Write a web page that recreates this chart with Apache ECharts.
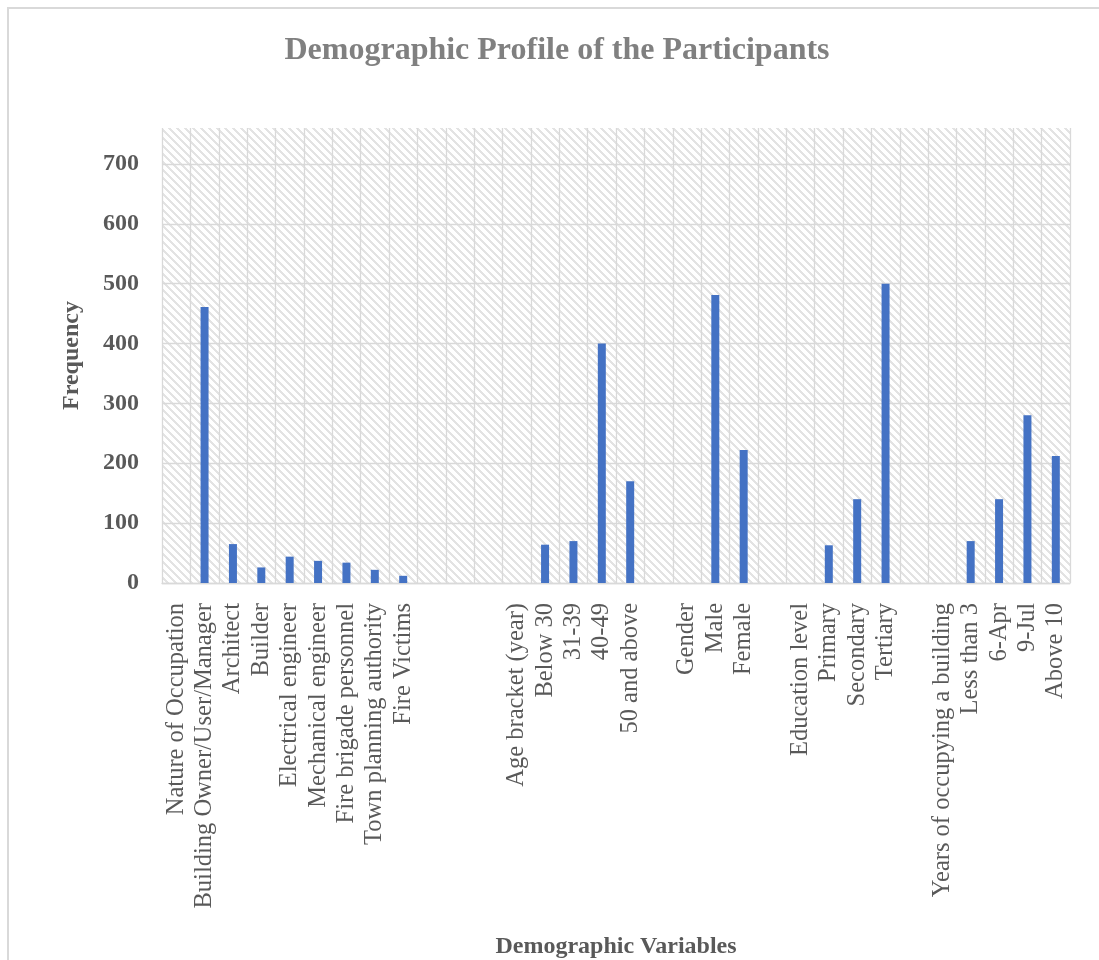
<!DOCTYPE html>
<html>
<head>
<meta charset="utf-8">
<script src="https://cdn.jsdelivr.net/npm/echarts@6/dist/echarts.min.js"></script>
<style>
html,body{margin:0;padding:0;background:#fff;}
#chart{width:1099px;height:960px;}
</style>
</head>
<body>
<div id="chart"></div>
<script>
// Categories (blank entries are spacer columns between groups)
const categories = [
  'Nature of Occupation', 'Building Owner/User/Manager', 'Architect', 'Builder',
  'Electrical engineer', 'Mechanical engineer', 'Fire brigade personnel',
  'Town planning authority', 'Fire Victims', ' ', '  ', '   ',
  'Age bracket (year)', 'Below 30', '31-39', '40-49', '50 and above', '    ',
  'Gender', 'Male', 'Female', '     ',
  'Education level', 'Primary', 'Secondary', 'Tertiary', '      ',
  'Years of occupying a building', 'Less than 3', '6-Apr', '9-Jul', 'Above 10'
];
// Frequency values (null = header / spacer, no bar)
const frequency = [
  null, 461, 65, 26, 44, 37, 34, 22, 12, null, null, null,
  null, 64, 70, 400, 170, null,
  null, 481, 222, null,
  null, 63, 140, 500, null,
  null, 70, 140, 280, 212
];
const yTicks = [0, 100, 200, 300, 400, 500, 600, 700];
const yMax = 760;

const chartTitle = 'Demographic Profile of the Participants';
const xTitle = 'Demographic Variables';
const yTitle = 'Frequency';

const serif = "'Liberation Serif', 'Times New Roman', serif";

// hatch pattern tile (wide downward diagonal)
const tile = document.createElement('canvas');
tile.width = 8; tile.height = 8;
const tctx = tile.getContext('2d');
tctx.fillStyle = '#ffffff';
tctx.fillRect(0, 0, 8, 8);
tctx.fillStyle = '#e3e3e3';
for (let y = 0; y < 8; y++) {
  for (let x = 0; x < 8; x++) {
    if ((((x - y) % 8) + 8) % 8 < 3) tctx.fillRect(x, y, 1, 1);
  }
}

const splitColors = yTicks.map(() => '#d9d9d9').concat(['rgba(0,0,0,0)']);

const chart = echarts.init(document.getElementById('chart'), null, {renderer: 'canvas'});
chart.setOption({
  animation: false,
  backgroundColor: '#ffffff',
  title: {
    text: chartTitle,
    left: 552,
    textAlign: 'center',
    top: 30,
    textStyle: {fontFamily: serif, fontSize: 32, fontWeight: 'bold', color: '#808080'}
  },
  graphic: [{
    type: 'rect',
    shape: {x: 8, y: 8, width: 1200, height: 1200},
    style: {fill: 'none', stroke: '#d9d9d9', lineWidth: 2},
    silent: true,
    z: -10
  }],
  grid: {
    left: 162, right: 29, top: 128, bottom: 377,
    show: true,
    borderWidth: 0,
    backgroundColor: {image: tile, repeat: 'repeat'}
  },
  xAxis: {
    type: 'category',
    data: categories,
    boundaryGap: true,
    name: xTitle,
    nameLocation: 'middle',
    nameGap: 352,
    nameTextStyle: {fontFamily: serif, fontSize: 24, fontWeight: 'bold', color: '#595959'},
    axisLine: {show: true, lineStyle: {color: '#d9d9d9', width: 1.3}},
    axisTick: {show: false},
    axisLabel: {
      interval: 0, rotate: 90, margin: 20,
      fontFamily: serif, fontSize: 24.5, color: '#595959'
    },
    splitLine: {show: true, interval: 0, lineStyle: {color: '#d9d9d9', width: 1.3}}
  },
  yAxis: {
    type: 'value',
    min: 0, max: yMax, interval: 100,
    name: yTitle,
    nameLocation: 'middle',
    nameRotate: 90,
    nameGap: 78,
    nameTextStyle: {fontFamily: serif, fontSize: 24, fontWeight: 'bold', color: '#595959'},
    axisLine: {show: false},
    axisTick: {show: false},
    axisLabel: {
      margin: 23,
      fontFamily: serif, fontSize: 24, fontWeight: 'bold', color: '#595959',
      formatter: v => (yTicks.indexOf(v) >= 0 ? String(v) : '')
    },
    splitLine: {show: true, lineStyle: {color: splitColors, width: 1.3}}
  },
  series: [{
    type: 'bar',
    data: frequency,
    barWidth: 8,
    itemStyle: {color: '#4472C4'}
  }]
});
</script>
</body>
</html>
